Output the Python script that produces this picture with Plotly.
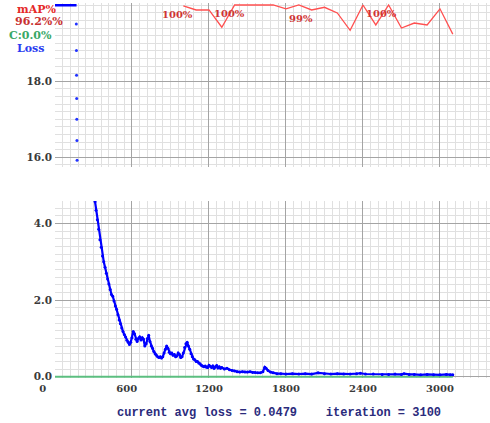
import plotly.graph_objects as go

# ---------------- data ----------------
# loss values clamped at the top of the chart (drawn as a flat line)
loss_clip_iter = [0, 168]
loss_clip_val = [20.0, 20.0]

# isolated loss dots visible in the upper window
loss_top_iter = [166, 167, 168, 169, 170, 171, 172]
loss_top_val = [19.51, 18.81, 18.16, 17.55, 17.00, 16.44, 15.92]

# main loss curve (lower window)
loss_iter = [300, 312, 320, 330, 340, 350, 360, 370, 380, 390, 400, 410, 420, 430, 440, 450,
             460, 470, 480, 490, 500, 510, 520, 530, 540, 550, 560, 570, 580, 590, 600, 610,
             620, 630, 640, 650, 660, 670, 680, 690, 700, 710, 720, 730, 740, 750, 760, 770,
             780, 790, 800, 810, 820, 830, 840, 850, 860, 870, 880, 890, 900, 910, 920, 930,
             940, 950, 960, 970, 980, 990, 1000, 1010, 1020, 1030, 1040, 1050, 1060, 1070,
             1080, 1090, 1100, 1110, 1120, 1130, 1140, 1150, 1160, 1170, 1180, 1190, 1200,
             1210, 1220, 1230, 1240, 1250, 1260, 1270, 1280, 1290, 1300, 1320, 1340, 1360,
             1380, 1400, 1420, 1440, 1460, 1480, 1500, 1520, 1540, 1560, 1580, 1600, 1620,
             1635, 1645, 1660, 1680, 1700, 1730, 1760, 1800, 1850, 1900, 1950, 2000, 2050,
             2100, 2150, 2200, 2250, 2300, 2350, 2380, 2420, 2480, 2550, 2600, 2650, 2700,
             2720, 2760, 2800, 2850, 2900, 2950, 3000, 3050, 3080, 3100]
loss_val = [4.85, 4.57, 4.35, 4.10, 3.85, 3.58, 3.38, 3.15, 3.00, 2.86, 2.70, 2.55, 2.42, 2.28, 2.15, 2.10,
            1.98, 1.85, 1.76, 1.62, 1.48, 1.38, 1.27, 1.18, 1.10, 1.04, 0.95, 0.90, 0.84, 0.90, 1.02, 1.18,
            1.12, 0.98, 0.92, 1.00, 1.04, 0.96, 1.02, 0.98, 0.80, 0.86, 1.00, 1.08, 0.92, 0.80, 0.74, 0.66,
            0.60, 0.56, 0.52, 0.50, 0.52, 0.49, 0.52, 0.62, 0.72, 0.80, 0.74, 0.64, 0.60, 0.62, 0.56, 0.58,
            0.52, 0.54, 0.62, 0.58, 0.50, 0.52, 0.62, 0.76, 0.86, 0.90, 0.80, 0.72, 0.60, 0.52,
            0.46, 0.44, 0.40, 0.40, 0.36, 0.34, 0.30, 0.28, 0.26, 0.28, 0.25, 0.24, 0.30,
            0.27, 0.24, 0.28, 0.22, 0.26, 0.29, 0.23, 0.26, 0.22, 0.24, 0.20, 0.22, 0.18,
            0.16, 0.15, 0.13, 0.12, 0.13, 0.12, 0.12, 0.13, 0.11, 0.11, 0.10, 0.10, 0.13,
            0.25, 0.22, 0.16, 0.12, 0.10, 0.08, 0.08, 0.07, 0.08, 0.07, 0.08, 0.07, 0.10,
            0.08, 0.07, 0.08, 0.07, 0.07, 0.08, 0.09, 0.07, 0.07, 0.06, 0.06, 0.07, 0.06,
            0.08, 0.06, 0.06, 0.05, 0.06, 0.05, 0.05, 0.06, 0.05, 0.048]

# C (green) series
c_iter = [0, 3100]
c_val = [0.0, 0.0]

# mAP (%) series
map_iter = [1000, 1100, 1200, 1300, 1400, 1500, 1600, 1700, 1800, 1900, 2000, 2100,
            2200, 2300, 2400, 2500, 2600, 2700, 2800, 2900, 3000, 3100]
map_val = [99.9, 99.35, 99.35, 97.1, 100.0, 100.0, 100.0, 100.0, 99.5, 100.0, 99.35, 99.7,
           98.96, 96.7, 100.0, 97.4, 100.0, 97.0, 97.65, 97.4, 99.5, 96.2]

# mAP text labels
map_label_iter = [820, 1225, 1810, 2410]
map_label_y = [98.7, 98.9, 98.2, 98.9]
map_label_text = ["100%", "100%", "99%", "100%"]

# axis ticks
x_ticks = [0, 600, 1200, 1800, 2400, 3000]
x_ticktext = ["0\u00a0\u00a0\u00a0\u00a0\u00a0\u00a0\u00a0", "600\u00a0\u00a0\u00a0", "1200", "1800", "2400", "3000"]
top_y_ticks = [16.0, 18.0]
bot_y_ticks = [0.0, 2.0, 4.0]

legend_lines = ["mAP%", "96.2%%", "C:0.0%", "Loss"]
footer = "current avg loss = 0.0479\u00a0\u00a0\u00a0\u00a0iteration = 3100"

# ---------------- styling ----------------
W, H = 490, 423
ML, MR, MT, MB = 55, 0, 3, 45
plot_h = H - MT - MB
px_top_panel_bottom = 166.7
px_bot_panel_top = 201
px_bottom = H - MB

top_dom = [(H - MB - px_top_panel_bottom) / plot_h, 1.0]
bot_dom = [0.0, (H - MB - px_bot_panel_top) / plot_h]

MAJOR = "#a4a4a4"
MINOR = "#e0e0e0"
TICKFONT = dict(family="DejaVu Serif", size=10.5, color="#3a3a3a", weight="bold")
XTICKFONT = dict(family="DejaVu Serif", size=10, color="#3a3a3a", weight="bold")

fig = go.Figure()

fig.add_trace(go.Scatter(x=loss_clip_iter, y=loss_clip_val, mode="lines",
                         line=dict(color="#0000ff", width=2.5), xaxis="x", yaxis="y",
                         hoverinfo="skip"))
fig.add_trace(go.Scatter(x=loss_top_iter, y=loss_top_val, mode="markers",
                         marker=dict(color="#2233ff", size=3), xaxis="x", yaxis="y"))
fig.add_trace(go.Scatter(x=map_iter, y=map_val, mode="lines",
                         line=dict(color="#ff5050", width=1.3), xaxis="x", yaxis="y3"))
fig.add_trace(go.Scatter(x=c_iter, y=c_val, mode="lines",
                         line=dict(color="#5cbf80", width=2), xaxis="x2", yaxis="y2"))
fig.add_trace(go.Scatter(x=loss_iter, y=loss_val, mode="lines+markers",
                         line=dict(color="#0000ff", width=2.2),
                         marker=dict(color="#0000ff", size=3),
                         xaxis="x2", yaxis="y2"))

xcommon = dict(range=[0, 3390], showgrid=True, gridcolor=MAJOR, gridwidth=1.3,
               tickvals=x_ticks, zeroline=False, showline=False, ticks="",
               minor=dict(dtick=60, tick0=0, showgrid=True, gridcolor=MINOR, gridwidth=1))
ycommon = dict(showgrid=True, gridcolor=MAJOR, gridwidth=1.3, zeroline=False, showline=False,
               ticks="", tickformat=".1f", tickfont=TICKFONT, ticklabelstandoff=2,
               minor=dict(dtick=0.2, tick0=0, showgrid=True, gridcolor=MINOR, gridwidth=1))

annotations = []
leg_colors = ["#e52a2a", "#c83030", "#3aa866", "#2a3cf0"]
leg_x_px = [15, 13, 7, 15]
leg_y_px = [9, 22, 35, 48]
for t, c, xp, yp in zip(legend_lines, leg_colors, leg_x_px, leg_y_px):
    annotations.append(dict(text=t, xref="paper", yref="paper",
                            x=(xp - ML) / (W - ML - MR), y=1 - (yp - MT) / plot_h,
                            xanchor="left", yanchor="middle", showarrow=False,
                            font=dict(family="DejaVu Serif", size=11, color=c, weight="bold")))
for xi, yi, t in zip(map_label_iter, map_label_y, map_label_text):
    annotations.append(dict(text=t, xref="x", yref="y3", x=xi, y=yi, xanchor="left",
                            yanchor="middle", showarrow=False,
                            font=dict(family="DejaVu Serif", size=10, color="#d03434", weight="bold")))
annotations.append(dict(text=footer, xref="paper", yref="paper",
                        x=(279 - ML) / (W - ML - MR), y=-(413 - px_bottom) / plot_h,
                        xanchor="center", yanchor="middle", showarrow=False,
                        font=dict(family="Liberation Mono", size=12, color="#2b2b7c", weight="bold")))

fig.update_layout(
    width=W, height=H, margin=dict(l=ML, r=MR, t=MT, b=MB),
    paper_bgcolor="white", plot_bgcolor="white", showlegend=False,
    xaxis=dict(xcommon, anchor="y", showticklabels=False),
    xaxis2=dict(xcommon, anchor="y2", matches="x", showticklabels=True,
                ticktext=x_ticktext, tickfont=XTICKFONT, ticklabelstandoff=3),
    yaxis=dict(ycommon, domain=top_dom, anchor="x", range=[15.753, 20.06], tickvals=top_y_ticks),
    yaxis2=dict(ycommon, domain=bot_dom, anchor="x2", range=[-0.034, 4.59], tickvals=bot_y_ticks),
    yaxis3=dict(overlaying="y", range=[78.92, 100.26], visible=False, showgrid=False),
    annotations=annotations,
)

fig.write_html("out.html", config={"displayModeBar": False},
               post_script="document.body.style.margin='0';")
